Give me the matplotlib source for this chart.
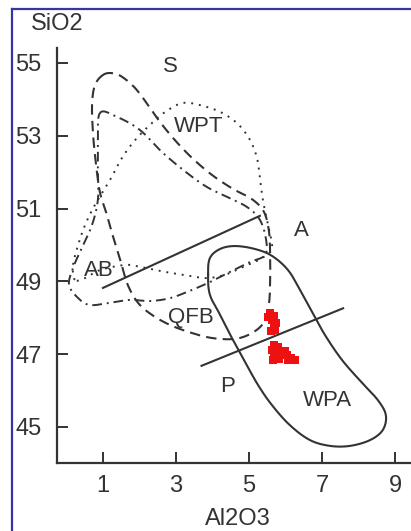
import numpy as np
import matplotlib
matplotlib.use("Agg")
import matplotlib.pyplot as plt
from matplotlib.lines import Line2D

plt.rcParams['font.family'] = ['Liberation Sans', 'DejaVu Sans']

#-------------------------------------------
# Field outlines (Al2O3, SiO2)
ofb_al = [1.00, 1.25, 1.52, 1.88, 2.23, 2.56, 2.97, 3.44, 3.99, 4.56, 5.08, 5.41,
          5.55, 5.58, 5.58, 5.55, 5.41, 5.08, 4.62, 4.01, 3.44, 2.84, 2.34, 1.96,
          1.68, 1.49, 1.30, 1.11, 0.92, 0.81, 0.73, 0.70, 0.78]
ofb_si = [54.67, 54.72, 54.62, 54.31, 53.85, 53.38, 52.88, 52.39, 51.92, 51.54, 51.26, 50.91,
          50.36, 49.72, 49.04, 48.41, 47.88, 47.58, 47.42, 47.44, 47.58, 47.80, 48.08, 48.41,
          48.90, 49.53, 50.14, 50.82, 51.43, 52.20, 53.02, 53.85, 54.39]

wpt_al = [0.23, 0.18, 0.32, 0.51, 0.78, 1.19, 1.52, 1.88, 2.29, 2.70, 3.19, 3.74, 4.26,
          4.70, 5.03, 5.22, 5.30, 5.38, 5.52, 5.63, 5.36, 4.89, 4.34, 3.85, 3.38, 2.70,
          2.01, 1.60, 0.92, 0.51]
wpt_si = [49.04, 49.45, 50.00, 50.55, 51.10, 51.78, 52.39, 52.88, 53.30, 53.65, 53.90, 53.82, 53.63,
          53.32, 52.88, 52.39, 51.84, 51.24, 50.55, 49.92, 49.64, 49.42, 49.18, 49.09, 49.15, 49.26,
          49.40, 49.45, 49.31, 49.09]

ab_al = [0.92, 1.38, 2.01, 2.64, 3.30, 3.85, 4.40, 4.95, 5.30, 5.47, 5.44, 5.03, 4.48,
         3.93, 3.38, 2.84, 2.29, 1.74, 1.19, 0.64, 0.32, 0.07, 0.18, 0.42, 0.70, 0.86,
         0.86, 0.86]
ab_si = [53.63, 53.52, 53.16, 52.53, 51.98, 51.59, 51.32, 51.04, 50.69, 50.14, 49.72, 49.53, 49.26,
         48.98, 48.74, 48.54, 48.46, 48.49, 48.41, 48.35, 48.54, 48.90, 49.37, 49.92, 50.55, 51.24,
         52.06, 52.88]

wpa_al = [3.88, 3.93, 4.21, 4.62, 5.16, 5.63, 6.07, 6.40, 6.73, 7.08, 7.55, 8.10, 8.53,
          8.75, 8.67, 8.32, 7.77, 7.22, 6.67, 6.12, 5.63, 5.25, 4.89, 4.53, 4.21, 3.93]
wpa_si = [49.18, 49.64, 49.89, 49.97, 49.89, 49.70, 49.31, 48.76, 48.16, 47.53, 46.84, 46.21, 45.74,
          45.33, 44.92, 44.64, 44.48, 44.48, 44.64, 45.05, 45.60, 46.15, 46.79, 47.45, 48.08, 48.63]

# S / A and A / P boundary lines
sa_al = [1.00, 5.30]
sa_si = [48.82, 50.80]
ap_al = [3.70, 7.58]
ap_si = [46.68, 48.26]

# samples
sample_al = [5.58, 5.68, 5.63, 5.74, 5.68, 5.60, 5.71, 5.52,
             5.68, 5.79, 5.63, 5.74, 5.85, 5.68, 5.93, 6.04, 6.15, 6.26, 5.82, 5.66, 6.07, 5.99]
sample_si = [48.13, 48.05, 47.94, 47.86, 47.75, 47.64, 47.66, 48.02,
             47.25, 47.20, 47.12, 47.06, 47.03, 46.95, 46.98, 46.98, 46.90, 46.84, 46.87, 46.84, 46.84, 47.09]

field_labels = ['S', 'WPT', 'A', 'AB', 'QFB', 'P', 'WPA']
label_al = [2.84, 3.63, 6.45, 0.89, 3.41, 4.40, 7.14]
label_si = [54.89, 53.24, 50.41, 49.31, 48.02, 46.10, 45.74]

xticks = [1, 3, 5, 7, 9]
yticks = [45, 47, 49, 51, 53, 55]


#-------------------------------------------
def smooth_closed(x, y, n=12):
  # closed Catmull-Rom curve through the outline points
  p = np.column_stack([x, y])
  m = len(p)
  t = np.linspace(0, 1, n, endpoint=False)[:, None]
  out = []
  for i in range(m):
    p0, p1, p2, p3 = p[i-1], p[i], p[(i+1) % m], p[(i+2) % m]
    out.append(0.5*((2*p1) + (-p0+p2)*t + (2*p0-5*p1+4*p2-p3)*t**2
                    + (-p0+3*p1-3*p2+p3)*t**3))
  out.append(p[:1])
  out = np.vstack(out)
  return out[:, 0], out[:, 1]


ink = '#333333'
fig = plt.figure(figsize=(4.11, 5.31), dpi=100)
ax = fig.add_axes([57/411, 68/531, 354/411, 415/531])

sx, sy = smooth_closed(ofb_al, ofb_si)
ax.plot(sx, sy, color=ink, lw=1.5, linestyle=(0, (5, 3)))
sx, sy = smooth_closed(wpt_al, wpt_si)
ax.plot(sx, sy, color=ink, lw=1.4, linestyle=(0, (1, 3)))
sx, sy = smooth_closed(ab_al, ab_si)
ax.plot(sx, sy, color=ink, lw=1.4, linestyle=(0, (5, 2.5, 1, 2.5)))
sx, sy = smooth_closed(wpa_al, wpa_si)
ax.plot(sx, sy, color=ink, lw=1.5)

ax.plot(sa_al, sa_si, color=ink, lw=1.5)
ax.plot(ap_al, ap_si, color=ink, lw=1.5)

ax.plot(sample_al, sample_si, 's', color='#ee1111', ms=5.5, mew=0, zorder=5)

for lab, x, y in zip(field_labels, label_al, label_si):
  ax.text(x, y, lab, fontsize=16, color=ink, ha='center', va='center')

ax.set_xlim(-0.26, 9.44)
ax.set_ylim(44.01, 55.41)
ax.set_xticks(xticks)
ax.set_yticks(yticks)
ax.tick_params(direction='in', length=8, width=1.4, color=ink, labelcolor=ink,
               labelsize=17)
ax.tick_params(axis='y', pad=11)
ax.tick_params(axis='x', pad=9)
for side in ['top', 'right']:
  ax.spines[side].set_visible(False)
for side in ['left', 'bottom']:
  ax.spines[side].set_linewidth(1.6)
  ax.spines[side].set_color(ink)
ax.patch.set_alpha(0)

fig.text(57/411, 1-24/531, 'SiO2', fontsize=17, color=ink, ha='center', va='center')
fig.text(238/411, 1-519/531, 'Al2O3', fontsize=17, color=ink, ha='center', va='center')

# blue frame of the scan
frame = '#3535a5'
fig.add_artist(Line2D([12/411, 1.0], [1-9/531, 1-9/531], color=frame, lw=1.6,
                      transform=fig.transFigure))
fig.add_artist(Line2D([12/411, 12/411], [0.0, 1-9/531], color=frame, lw=1.6,
                      transform=fig.transFigure))

fig.savefig('out.png', dpi=100)
